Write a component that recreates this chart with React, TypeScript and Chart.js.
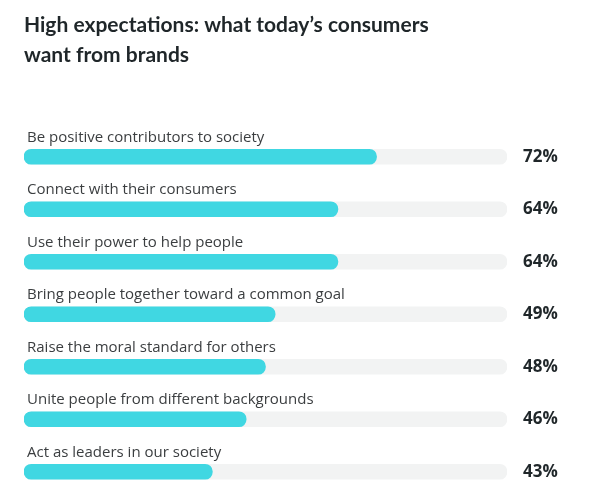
import React, { useEffect, useRef } from "react";
import { Chart, registerables } from "chart.js";

Chart.register(...registerables);

const titleLines = ["High expectations: what today\u2019s consumers", "want from brands"];
const categories = [
  "Be positive contributors to society",
  "Connect with their consumers",
  "Use their power to help people",
  "Bring people together toward a common goal",
  "Raise the moral standard for others",
  "Unite people from different backgrounds",
  "Act as leaders in our society",
];
// bar lengths as drawn in the picture
const barValues = [73, 65, 65, 52, 50, 46, 39];
// percentages printed beside the bars
const reportedPercents = [72, 64, 64, 49, 48, 46, 43];
const trackMax = 100;

const FILL = "#40d7e2";
const TRACK = "#f2f3f3";
const DARK = "#1f2629";
const LABEL = "#3b3e40";

const textPlugin = {
  id: "textPlugin",
  afterDatasetsDraw(chart: any) {
    const ctx = chart.ctx;
    const meta = chart.getDatasetMeta(0);
    ctx.save();
    // title
    ctx.fillStyle = DARK;
    ctx.font = "bold 21px Lato, sans-serif";
    ctx.textAlign = "left";
    ctx.textBaseline = "alphabetic";
    ctx.fillText(titleLines[0], 24, 32);
    ctx.fillText(titleLines[1], 24, 62);
    meta.data.forEach((bar: any, i: number) => {
      const y = bar.y;
      ctx.fillStyle = LABEL;
      ctx.font = "15px 'Open Sans', sans-serif";
      ctx.textAlign = "left";
      ctx.fillText(categories[i], 27, y - 15);
      ctx.fillStyle = DARK;
      ctx.font = "bold 17px 'Open Sans', sans-serif";
      ctx.fillText(reportedPercents[i] + "%", 523, y + 5);
    });
    ctx.restore();
  },
};

export default function App() {
  const ref = useRef<HTMLCanvasElement>(null);
  useEffect(() => {
    if (!ref.current) return;
    const chart = new Chart(ref.current, {
      type: "bar",
      data: {
        labels: categories,
        datasets: [
          {
            data: barValues,
            backgroundColor: FILL,
            borderRadius: 20,
            borderSkipped: false,
            barThickness: 15,
            grouped: false,
            order: 0,
          } as any,
          {
            data: categories.map(() => trackMax),
            backgroundColor: TRACK,
            borderRadius: 20,
            borderSkipped: false,
            barThickness: 15,
            grouped: false,
            order: 1,
          } as any,
        ],
      },
      options: {
        indexAxis: "y",
        animation: false,
        responsive: false,
        layout: { padding: { left: 24, right: 82, top: 130.5, bottom: 4 } },
        scales: {
          x: { display: false, min: 0, max: trackMax },
          y: { display: false },
        },
        plugins: {
          legend: { display: false },
          tooltip: { enabled: false },
          title: { display: false },
        },
      },
      plugins: [textPlugin],
    });
    return () => chart.destroy();
  }, []);
  return (
    <div style={{ position: "absolute", left: 0, top: 0, width: 589, height: 502, background: "#fff" }}>
      <canvas ref={ref} width={589} height={502} style={{ display: "block" }} />
    </div>
  );
}
